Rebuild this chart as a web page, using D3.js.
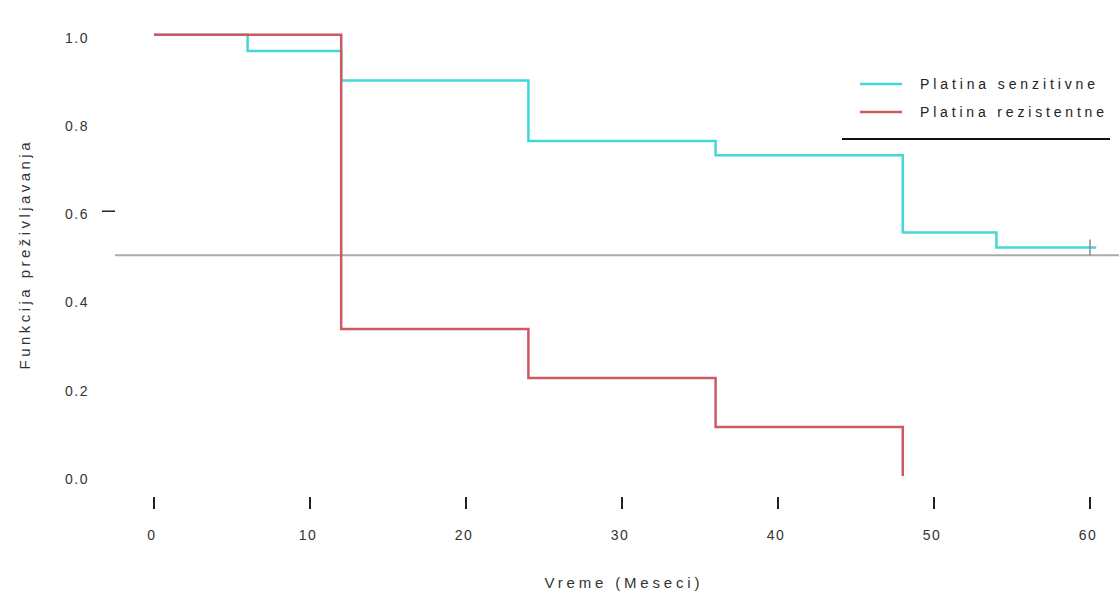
<!DOCTYPE html>
<html>
<head>
<meta charset="utf-8">
<script src="https://cdn.jsdelivr.net/npm/d3@7"></script>
<style>
  body { margin: 0; background: #fff; }
  text { font-family: "Liberation Sans", Arial, sans-serif; }
</style>
</head>
<body>
<div id="vis"></div>
<script>
// set the width and height
var width = 1119;
var height = 602;

// survival curves (time in months, survival probability)
var senzTimes = [0, 6, 12, 24, 36, 48, 54, 60.4];
var senzValues = [1.0, 0.963, 0.896, 0.759, 0.727, 0.552, 0.518, 0.518];
var rezTimes = [0, 12, 24, 36, 48];
var rezValues = [1.0, 0.333, 0.222, 0.111, 0.0];
var censorTimes = [60];
var censorValues = [0.518];

var seriesNames = ['Platina senzitivne', 'Platina rezistentne'];
var xTicks = [0, 10, 20, 30, 40, 50, 60];
var yTicks = [0, 0.2, 0.4, 0.6, 0.8, 1.0];
var yTickMarks = [0.6];
var medianLine = 0.5;

var colours = ['#45d6d6', '#cc5a60'];

var svg = d3.select('#vis')
    .append('svg')
    .attr('width', width)
    .attr('height', height);

var x_scale = d3.scaleLinear()
    .domain([0, 60])
    .range([154, 1090]);

var y_scale = d3.scaleLinear()
    .domain([0, 1])
    .range([476, 34.7]);

// y tick labels
svg.append('g')
    .selectAll('text')
    .data(yTicks)
    .enter()
    .append('text')
    .attr('x', 89)
    .attr('y', function(d) { return y_scale(d) + 3; })
    .attr('dy', '0.35em')
    .attr('text-anchor', 'end')
    .attr('font-size', 14)
    .attr('fill', '#333')
    .attr('letter-spacing', 1.5)
    .text(function(d) { return d.toFixed(1); });

svg.append('g')
    .selectAll('line')
    .data(yTickMarks)
    .enter()
    .append('line')
    .attr('x1', 102)
    .attr('x2', 115)
    .attr('y1', function(d) { return y_scale(d); })
    .attr('y2', function(d) { return y_scale(d); })
    .attr('stroke', '#222')
    .attr('stroke-width', 1.5);

// x ticks
var xg = svg.append('g');
xg.selectAll('line')
    .data(xTicks)
    .enter()
    .append('line')
    .attr('x1', function(d) { return x_scale(d); })
    .attr('x2', function(d) { return x_scale(d); })
    .attr('y1', 497)
    .attr('y2', 509)
    .attr('stroke', '#222')
    .attr('stroke-width', 2);

xg.selectAll('text')
    .data(xTicks)
    .enter()
    .append('text')
    .attr('x', function(d) { return x_scale(d) - 2; })
    .attr('y', 535)
    .attr('dy', '0.35em')
    .attr('text-anchor', 'middle')
    .attr('font-size', 14)
    .attr('fill', '#333')
    .attr('letter-spacing', 1.5)
    .text(function(d) { return d; });

// axis titles
svg.append('text')
    .attr('x', 622)
    .attr('y', 583)
    .attr('dy', '0.35em')
    .attr('text-anchor', 'middle')
    .attr('font-size', 15)
    .attr('fill', '#333')
    .attr('textLength', 155)
    .text('Vreme (Meseci)');

svg.append('text')
    .attr('transform', 'translate(25,256) rotate(-90)')
    .attr('dy', '0.35em')
    .attr('text-anchor', 'middle')
    .attr('font-size', 15)
    .attr('fill', '#333')
    .attr('textLength', 227)
    .text('Funkcija preživljavanja');

// median reference line
svg.append('line')
    .attr('x1', 115)
    .attr('x2', width)
    .attr('y1', y_scale(medianLine))
    .attr('y2', y_scale(medianLine))
    .attr('stroke', '#aaa')
    .attr('stroke-width', 2);

// step curves
var line = d3.line()
    .curve(d3.curveStepAfter)
    .x(function(d) { return x_scale(d[0]); })
    .y(function(d) { return y_scale(d[1]); });

svg.append('path')
    .datum(d3.zip(senzTimes, senzValues))
    .attr('d', line)
    .attr('fill', 'none')
    .attr('stroke', colours[0])
    .attr('stroke-width', 2.5);

svg.append('path')
    .datum(d3.zip(rezTimes, rezValues))
    .attr('d', line)
    .attr('fill', 'none')
    .attr('stroke', colours[1])
    .attr('stroke-width', 2.5);

// censor marks
svg.append('g')
    .selectAll('line')
    .data(d3.zip(censorTimes, censorValues))
    .enter()
    .append('line')
    .attr('x1', function(d) { return x_scale(d[0]); })
    .attr('x2', function(d) { return x_scale(d[0]); })
    .attr('y1', function(d) { return y_scale(d[1]) - 8; })
    .attr('y2', function(d) { return y_scale(d[1]) + 8; })
    .attr('stroke', '#888')
    .attr('stroke-width', 1.5);

// legend
var legend = svg.append('g');
var legendY = [84, 112];
legend.selectAll('line')
    .data(seriesNames)
    .enter()
    .append('line')
    .attr('x1', 860)
    .attr('x2', 902)
    .attr('y1', function(d, i) { return legendY[i]; })
    .attr('y2', function(d, i) { return legendY[i]; })
    .attr('stroke', function(d, i) { return colours[i]; })
    .attr('stroke-width', 2.5);

legend.selectAll('text')
    .data(seriesNames)
    .enter()
    .append('text')
    .attr('x', 920)
    .attr('y', function(d, i) { return legendY[i]; })
    .attr('dy', '0.35em')
    .attr('font-size', 14)
    .attr('fill', '#222')
    .attr('textLength', function(d, i) { return i === 0 ? 175 : 184; })
    .text(function(d) { return d; });

svg.append('line')
    .attr('x1', 842)
    .attr('x2', 1110)
    .attr('y1', 139)
    .attr('y2', 139)
    .attr('stroke', '#111')
    .attr('stroke-width', 2);
</script>
</body>
</html>
